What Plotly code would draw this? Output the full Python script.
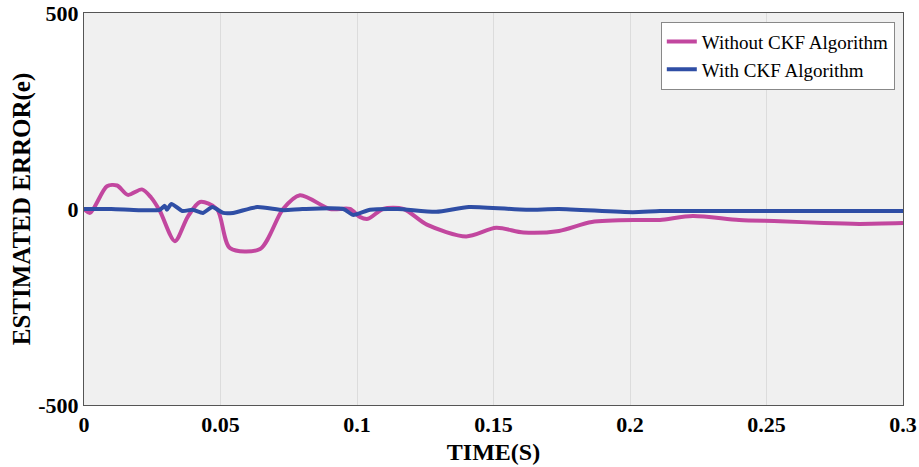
import plotly.graph_objects as go

# Without CKF Algorithm (magenta)
t_without = [0.0, 0.0022, 0.0084, 0.0121, 0.0161, 0.0212, 0.0245, 0.0278, 0.0333, 0.038, 0.0425,
             0.0487, 0.0535, 0.0645, 0.0729, 0.0791, 0.0901, 0.0974, 0.101, 0.104, 0.1095, 0.117,
             0.1256, 0.140, 0.151, 0.161, 0.174, 0.186, 0.204, 0.211, 0.223, 0.240, 0.255, 0.271,
             0.284, 0.300]
e_without = [0, -10, 58, 60, 36, 50, 30, -5, -82, -20, 18,
             0, -100, -102, 0, 35, 0, 0, -20, -25, 0, 0,
             -40, -70, -48, -60, -56, -33, -28, -28, -18, -28, -31, -36,
             -38, -36]

# With CKF Algorithm (blue)
t_with = [0.0, 0.01, 0.02, 0.0278, 0.0296, 0.0304, 0.032, 0.036, 0.0397, 0.0436, 0.047, 0.051,
          0.0546, 0.0634, 0.073, 0.080, 0.095, 0.0985, 0.1048, 0.115, 0.129, 0.141, 0.162,
          0.174, 0.201, 0.211, 0.230, 0.260, 0.300]
e_with = [0, 0, -3, -2, 8, -2, 13, -5, -2, -10, 5, -10,
          -10, 5, -3, 0, 0, -15, -2, 0, -7, 5, -2,
          0, -8, -5, -5, -5, -5]

x_ticks = [0, 0.05, 0.1, 0.15, 0.2, 0.25, 0.3]
x_tick_text = ["0", "0.05", "0.1", "0.15", "0.2", "0.25", "0.3"]
y_ticks = [-500, 0, 500]
y_tick_text = ["-500", "0", "500"]

font_family = "Liberation Serif"

fig = go.Figure()
fig.add_trace(go.Scatter(x=t_without, y=e_without, mode="lines", name="Without CKF Algorithm",
                         line=dict(color="#c2479f", width=4, shape="spline", smoothing=0.8)))
fig.add_trace(go.Scatter(x=t_with, y=e_with, mode="lines", name="With CKF Algorithm",
                         line=dict(color="#2f4ea5", width=4, shape="spline", smoothing=0.6)))

fig.update_layout(
    width=919, height=467,
    margin=dict(l=84, r=16, t=13, b=62),
    paper_bgcolor="white",
    plot_bgcolor="#f0f0f0",
    font=dict(family=font_family, color="black"),
    showlegend=True,
    legend=dict(x=0.990, y=0.978, xanchor="right", yanchor="top",
                bgcolor="white", bordercolor="#888888", borderwidth=1,
                font=dict(family=font_family, size=19, color="black"),
                tracegroupgap=0, itemwidth=30),
    xaxis=dict(range=[0, 0.3], tickvals=x_ticks, ticktext=x_tick_text,
               showgrid=True, gridcolor="#dcdcdc", gridwidth=1,
               showline=True, linecolor="#555555", linewidth=1, mirror=True,
               ticks="", zeroline=False, automargin=False, ticklabeloverflow="allow",
               tickfont=dict(family=font_family, size=22, color="black", weight="bold"),
               title=dict(text="<b>TIME(S)</b>", font=dict(family=font_family, size=24, color="black"),
                          standoff=6)),
    yaxis=dict(range=[-500, 500], tickvals=y_ticks, ticktext=y_tick_text,
               showgrid=False, zeroline=False, automargin=False, ticklabeloverflow="allow",
               showline=True, linecolor="#555555", linewidth=1, mirror=True,
               ticks="",
               tickfont=dict(family=font_family, size=22, color="black", weight="bold"),
               title=dict(text="<b>ESTIMATED ERROR(e)</b>", font=dict(family=font_family, size=25, color="black"),
                          standoff=0)),
)

# Remove the default 8px page margin so the figure fills the window exactly.
fig.write_html("out.html", config={"displayModeBar": False},
               post_script="document.body.style.margin='0';")
